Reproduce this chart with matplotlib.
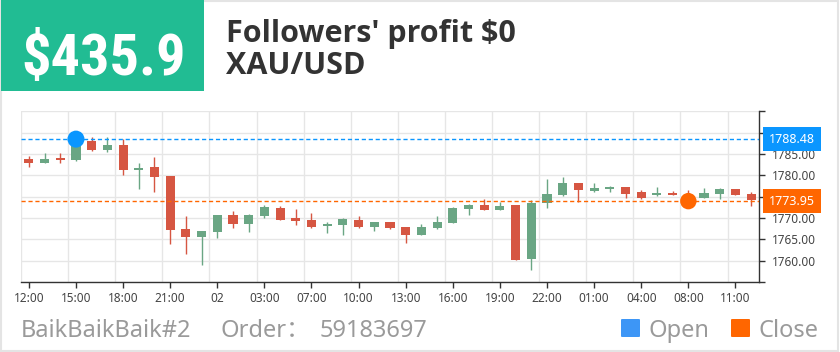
import numpy as np
import matplotlib
matplotlib.use("Agg")
import matplotlib.pyplot as plt
from matplotlib.patches import Rectangle, FancyBboxPatch
from matplotlib.transforms import blended_transform_factory

W, H = 840, 352

# ── data ────────────────────────────────────────────────────────────────────
times = ["12:00", "13:00", "14:00", "15:00", "16:00", "17:00", "18:00", "19:00",
         "20:00", "21:00", "22:00", "23:00", "02", "01:00", "02:00", "03:00",
         "05:00", "06:00", "07:00", "08:00", "09:00", "10:00", "11:00", "12:00",
         "13:00", "14:00", "15:00", "16:00", "17:00", "18:00", "19:00", "20:00",
         "21:00", "22:00", "23:00", "03", "01:00", "02:00", "03:00", "04:00",
         "06:00", "07:00", "08:00", "09:00", "10:00", "11:00", "12:00"]

opens = [1783.9, 1782.9, 1784.0, 1783.6, 1788.0, 1785.9, 1787.1, 1781.3, 1782.0, 1779.8,
         1767.4, 1765.5, 1766.7, 1770.7, 1768.6, 1770.5, 1772.4, 1770.0, 1769.5, 1768.1,
         1768.4, 1769.6, 1767.9, 1769.0, 1767.8, 1766.1, 1767.7, 1768.8, 1772.2, 1773.0,
         1771.9, 1773.0, 1760.3, 1773.4, 1775.5, 1778.1, 1776.4, 1776.9, 1777.2, 1776.0,
         1775.4, 1775.9, 1775.3, 1774.8, 1775.7, 1776.9, 1775.7]
highs = [1784.6, 1785.3, 1785.2, 1789.0, 1789.0, 1788.9, 1788.4, 1782.9, 1784.2, 1779.8,
         1770.5, 1767.0, 1770.7, 1771.7, 1770.9, 1773.0, 1772.7, 1772.2, 1771.1, 1769.0,
         1770.1, 1770.5, 1769.1, 1769.0, 1768.0, 1768.5, 1770.5, 1772.6, 1773.3, 1774.5,
         1773.7, 1773.0, 1774.2, 1779.1, 1779.6, 1778.1, 1778.1, 1777.5, 1777.2, 1776.5,
         1777.2, 1776.3, 1776.6, 1777.1, 1777.0, 1776.9, 1776.0]
lows = [1782.0, 1782.8, 1783.0, 1783.4, 1785.7, 1785.5, 1780.1, 1776.9, 1776.1, 1763.9,
        1761.6, 1759.1, 1765.3, 1767.7, 1766.6, 1770.1, 1769.6, 1768.4, 1767.7, 1766.4,
        1766.1, 1767.7, 1767.0, 1767.4, 1764.2, 1765.9, 1767.4, 1768.8, 1770.7, 1771.9,
        1771.9, 1760.1, 1757.8, 1772.3, 1775.2, 1773.8, 1776.2, 1776.0, 1774.8, 1774.4,
        1775.2, 1775.4, 1773.6, 1774.8, 1774.5, 1775.3, 1772.8]
closes = [1783.0, 1783.8, 1783.6, 1788.5, 1785.9, 1787.1, 1781.3, 1781.7, 1779.5, 1767.2,
          1765.5, 1767.0, 1770.7, 1768.7, 1770.7, 1772.6, 1769.6, 1769.4, 1768.0, 1768.7,
          1769.7, 1768.0, 1769.0, 1767.6, 1766.1, 1768.0, 1769.1, 1772.4, 1773.0, 1771.95,
          1772.8, 1760.2, 1773.5, 1775.6, 1778.2, 1776.5, 1777.0, 1777.3, 1775.7, 1774.7,
          1775.9, 1775.4, 1773.95, 1775.9, 1776.9, 1775.5, 1774.2]

open_idx, open_price = 3, 1788.48
close_idx, close_price = 42, 1773.95

profit_text = "$435.9"
title_lines = ["Followers' profit $0", "XAU/USD"]
account = "BaikBaikBaik#2"
order_no = "59183697"

# ── colours ─────────────────────────────────────────────────────────────────
UP = "#6aa684"
DOWN = "#d65642"
BLUE = "#0a96ff"
ORANGE = "#ff6600"
GRID = "#e6e6e6"
AXIS = "#333333"
GREY_TXT = "#9a9a9a"

plt.rcParams["font.family"] = ["Noto Sans", "Noto Sans CJK SC", "DejaVu Sans"]


def px(x, y):
    """pixel position (top-left origin) -> figure fraction"""
    return x / W, 1 - y / H


fig = plt.figure(figsize=(W / 100, H / 100), dpi=100)
fig.patch.set_facecolor("white")

# outer frame
fig.patches.append(Rectangle((0.001, 0.003), 0.997, 0.995, transform=fig.transFigure,
                             fill=False, edgecolor="#e4e4e4", lw=1.5))

# ── header ──────────────────────────────────────────────────────────────────
x0, y0 = px(1, 91)
x1, y1 = px(204, 0)
fig.patches.append(Rectangle((x0, y0), x1 - x0, y1 - y0, transform=fig.transFigure,
                             facecolor="#21bc93", edgecolor="none"))
fig.text(*px(21, 75), profit_text, color="white", fontsize=42, fontweight="bold",
         family=["Roboto Condensed", "DejaVu Sans"], va="baseline", ha="left")
fig.text(*px(226, 42), title_lines[0], color="#333333", fontsize=22, fontweight="bold",
         family=["Open Sans", "DejaVu Sans"], va="baseline", ha="left")
fig.text(*px(226, 74), title_lines[1], color="#333333", fontsize=22, fontweight="bold",
         family=["Open Sans", "DejaVu Sans"], va="baseline", ha="left")

# ── candle chart ────────────────────────────────────────────────────────────
left, top, right, bottom = 21, 111.3, 759, 282
ax = fig.add_axes([left / W, 1 - bottom / H, (right - left) / W, (bottom - top) / H])

o = np.array(opens)
c = np.array(closes)
hi = np.array(highs)
lo = np.array(lows)
x = np.arange(len(o))
col = np.where(c >= o, UP, DOWN)

ax.vlines(x, lo, hi, colors=col, lw=1.0, zorder=3)
body = np.maximum(np.abs(c - o), 0.2)
ax.bar(x, body, bottom=np.minimum(o, c), width=0.58, color=col, zorder=3)

ax.axhline(open_price, color=BLUE, lw=1.0, dashes=(3, 2), zorder=4)
ax.axhline(close_price, color=ORANGE, lw=1.0, dashes=(3, 2), zorder=4)
ax.scatter([open_idx], [open_price], s=150, color=BLUE, zorder=6, edgecolors="none")
ax.scatter([close_idx], [close_price], s=140, color=ORANGE, zorder=6, edgecolors="none")

ax.set_xlim(-0.5, len(o) - 0.5)
ax.set_ylim(1755, 1795)

ax.set_xticks(x[::3])
ax.set_xticklabels([times[i] for i in x[::3]])
ax.set_xticks(np.arange(-0.5, len(o), 3), minor=True)
yt = np.arange(1755, 1796, 5)
ax.set_yticks(yt)
# outer labels are not drawn, 1790/1775 sit under the price tags
ax.set_yticklabels(["" if v in (1755, 1775, 1790, 1795) else f"{v:.2f}" for v in yt])
ax.yaxis.tick_right()

ax.grid(False)
ax.grid(axis="x", which="minor", color=GRID, lw=1)
ax.grid(axis="y", which="major", color=GRID, lw=1)
ax.set_axisbelow(True)
ax.tick_params(axis="x", which="minor", length=0)
ax.tick_params(axis="both", which="major", length=4, width=1, color=AXIS,
               labelcolor="#444444", labelsize=8.5, pad=3)
ax.tick_params(axis="y", pad=5)

for s in ("top", "left"):
    ax.spines[s].set_visible(False)
for s in ("bottom", "right"):
    ax.spines[s].set_color(AXIS)
    ax.spines[s].set_linewidth(1)

# price tags on the right axis
tr = blended_transform_factory(ax.transAxes, ax.transData)
for price, colr in ((open_price, BLUE), (close_price, ORANGE)):
    ax.text(1.0135, price, f"{price:.2f}", transform=tr, color="white", fontsize=9,
            va="center", ha="left", zorder=10, clip_on=False,
            bbox=dict(boxstyle="square,pad=0.45", facecolor=colr, edgecolor="none"))

# ── footer ──────────────────────────────────────────────────────────────────
fig.text(*px(21, 337), account, color=GREY_TXT, fontsize=17, va="baseline")
fig.text(*px(220, 337), "Order：", color=GREY_TXT, fontsize=17, va="baseline")
fig.text(*px(320, 337), order_no, color=GREY_TXT, fontsize=17, va="baseline")

for xs, colr, lab in ((621, "#3d96f6", "Open"), (731, ORANGE, "Close")):
    bx, by = px(xs, 337)
    fig.patches.append(FancyBboxPatch((bx, by), 19 / W, 18 / H, transform=fig.transFigure,
                                      boxstyle="round,pad=0,rounding_size=0.002",
                                      facecolor=colr, edgecolor="none"))
    fig.text(*px(xs + 27, 337), lab, color=GREY_TXT, fontsize=17, va="baseline")

fig.savefig("out.png", dpi=100)
